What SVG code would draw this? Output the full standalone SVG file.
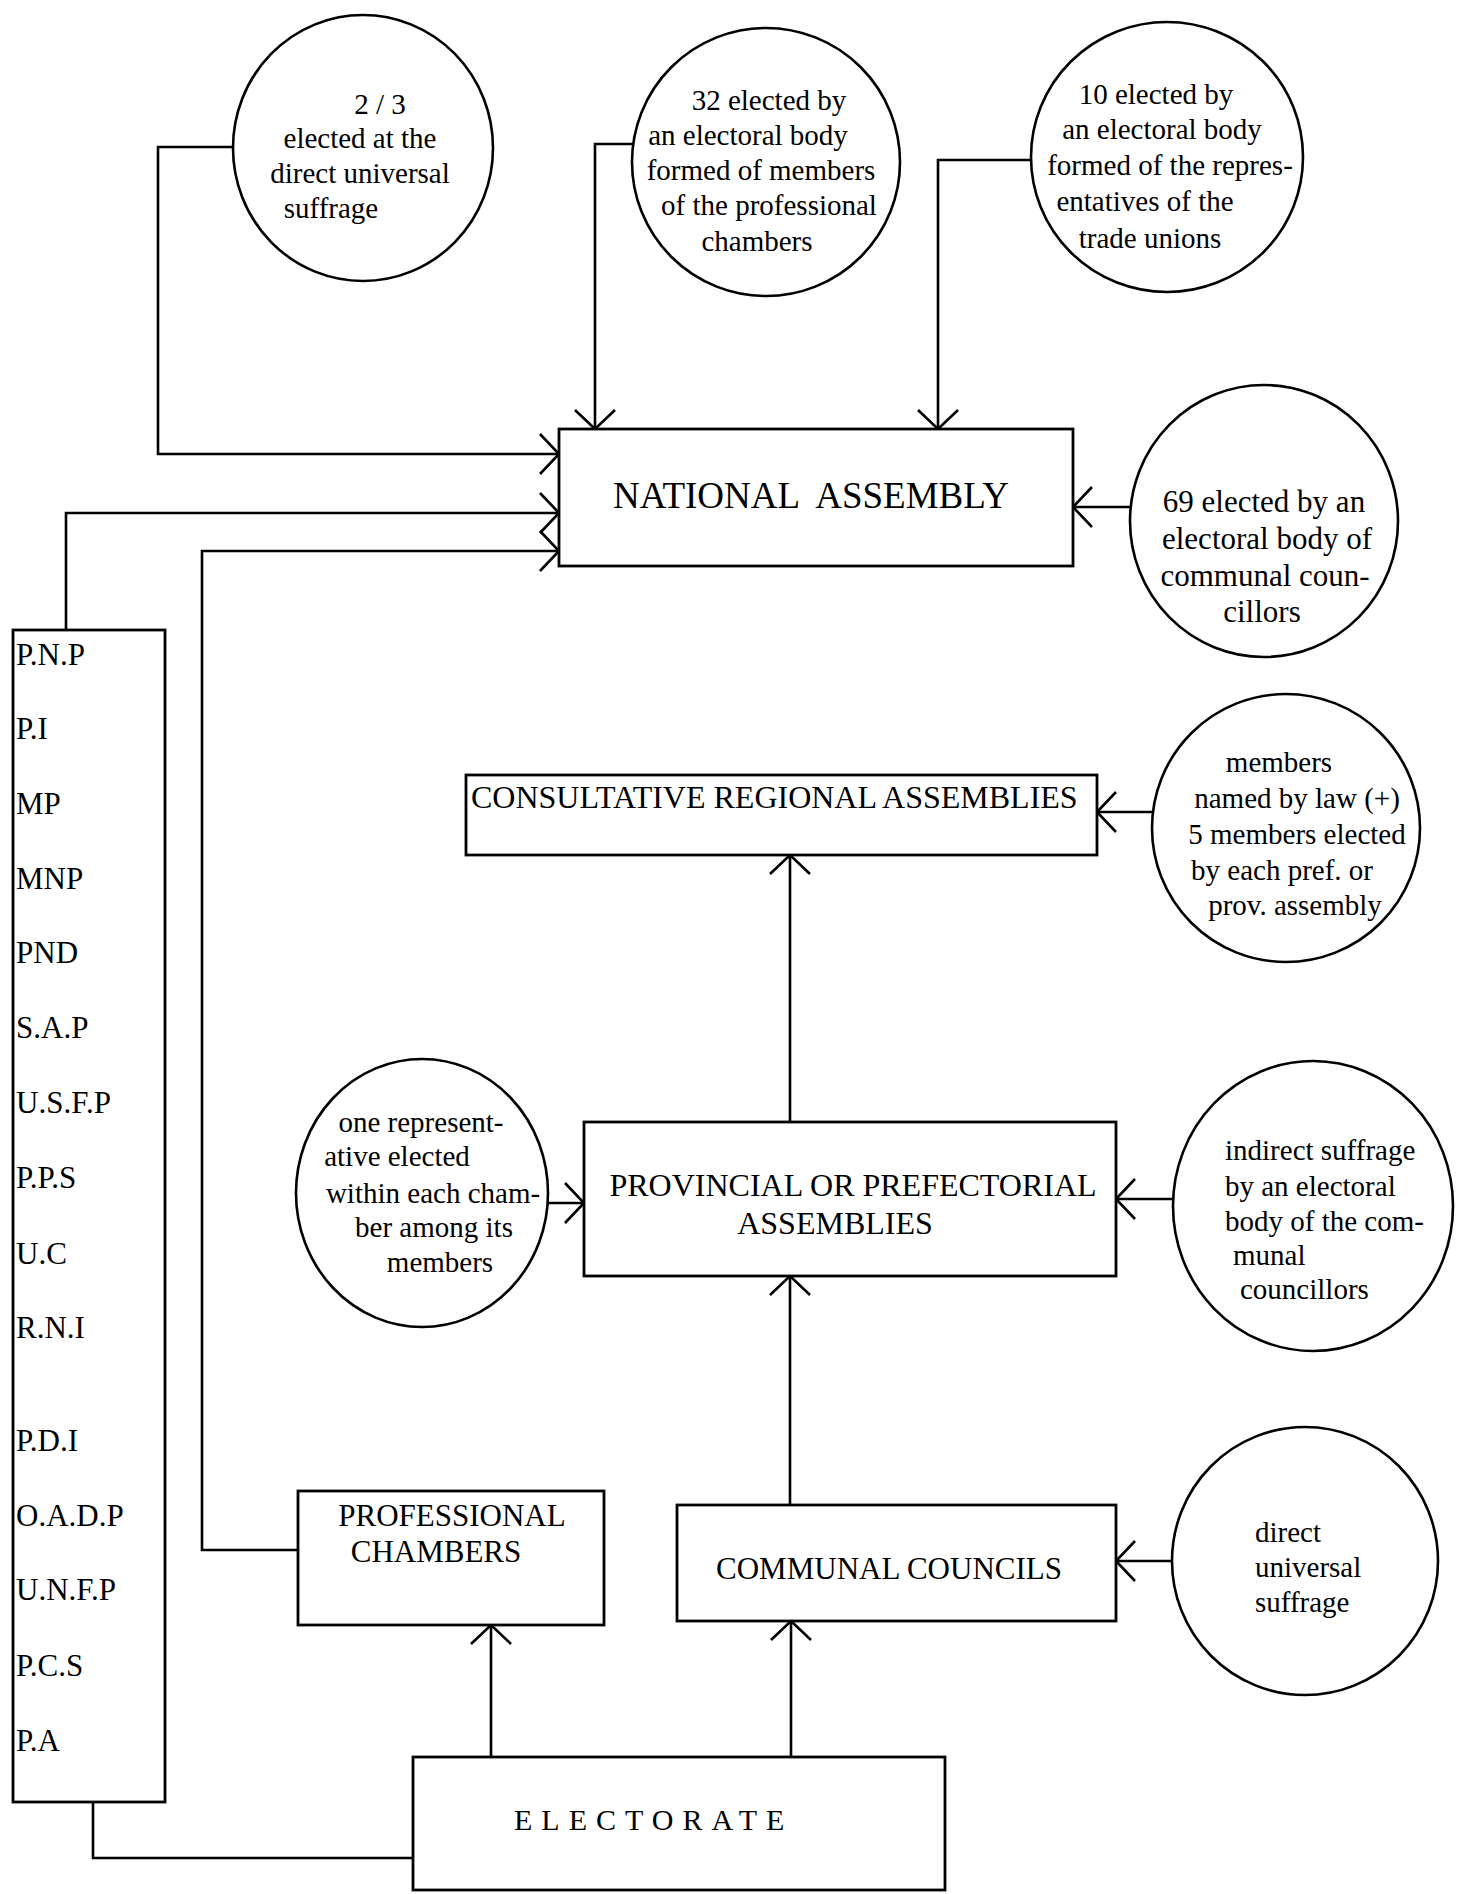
<svg xmlns="http://www.w3.org/2000/svg" width="1463" height="1894" viewBox="0 0 1463 1894">
<defs>
<marker id="arr" markerUnits="userSpaceOnUse" viewBox="-22 -22 24 44" refX="0" refY="0" markerWidth="24" markerHeight="44" orient="auto">
<path d="M-19,-20 L0,0 L-19,20" fill="none" stroke="#000" stroke-width="2.6"/>
</marker>
<style>
.bx{fill:#fff;stroke:#000;stroke-width:2.8}
.cl{fill:#fff;stroke:#000;stroke-width:2.6}
.ln{fill:none;stroke:#000;stroke-width:2.6}
text{font-family:"Liberation Serif","Times New Roman",serif;fill:#000}
.ct{font-size:29px;text-anchor:middle}
.cs{font-size:29px}
.bt{font-size:31px;text-anchor:middle}
.pt{font-size:31px}
</style>
</defs>
<rect width="1463" height="1894" fill="#fff"/>

<g id="connectors">
<path class="ln" d="M233,147 H158 V454 H559" marker-end="url(#arr)"/>
<path class="ln" d="M633,144 H595 V429" marker-end="url(#arr)"/>
<path class="ln" d="M1031,160 H938 V429" marker-end="url(#arr)"/>
<path class="ln" d="M1130,507 H1073" marker-end="url(#arr)"/>
<path class="ln" d="M66,630 V513 H559" marker-end="url(#arr)"/>
<path class="ln" d="M298,1550 H202 V551 H559" marker-end="url(#arr)"/>
<path class="ln" d="M1152,812 H1097" marker-end="url(#arr)"/>
<path class="ln" d="M790,1122 V855" marker-end="url(#arr)"/>
<path class="ln" d="M548,1203 H584" marker-end="url(#arr)"/>
<path class="ln" d="M1172,1199 H1116" marker-end="url(#arr)"/>
<path class="ln" d="M790,1505 V1276" marker-end="url(#arr)"/>
<path class="ln" d="M1172,1561 H1116" marker-end="url(#arr)"/>
<path class="ln" d="M491,1757 V1625" marker-end="url(#arr)"/>
<path class="ln" d="M791,1757 V1621" marker-end="url(#arr)"/>
<path class="ln" d="M413,1858 H93 V1802"/>
</g>

<g id="c1">
<ellipse class="cl" cx="363" cy="148" rx="130" ry="133"/>
<text class="ct" x="380" y="114">2 / 3</text>
<text class="ct" x="360" y="148">elected at the</text>
<text class="ct" x="360" y="183">direct universal</text>
<text class="ct" x="331" y="218">suffrage</text>
</g>

<g id="c2">
<ellipse class="cl" cx="766" cy="162" rx="134" ry="134"/>
<text class="ct" x="769" y="110">32 elected by</text>
<text class="ct" x="748" y="145">an electoral body</text>
<text class="ct" x="761" y="180">formed of members</text>
<text class="ct" x="769" y="215">of the professional</text>
<text class="ct" x="757" y="251">chambers</text>
</g>

<g id="c3">
<ellipse class="cl" cx="1167" cy="157" rx="136" ry="135"/>
<text class="ct" x="1156" y="104">10 elected by</text>
<text class="ct" x="1162" y="139">an electoral body</text>
<text class="ct" x="1170" y="175">formed of the repres-</text>
<text class="ct" x="1145" y="211">entatives of the</text>
<text class="ct" x="1150" y="248">trade unions</text>
</g>

<g id="c4">
<ellipse class="cl" cx="1264" cy="521" rx="134" ry="136"/>
<text class="ct" x="1264" y="512" style="font-size:31px">69 elected by an</text>
<text class="ct" x="1267" y="549" style="font-size:31px">electoral body of</text>
<text class="ct" x="1265" y="586" style="font-size:31px">communal coun-</text>
<text class="ct" x="1262" y="622" style="font-size:31px">cillors</text>
</g>

<g id="c5">
<ellipse class="cl" cx="1286" cy="828" rx="134" ry="134"/>
<text class="ct" x="1279" y="772">members</text>
<text class="ct" x="1297" y="808">named by law (+)</text>
<text class="ct" x="1297" y="844">5 members elected</text>
<text class="ct" x="1282" y="880">by each pref. or</text>
<text class="ct" x="1295" y="915">prov. assembly</text>
</g>

<g id="c6">
<ellipse class="cl" cx="1313" cy="1206" rx="140" ry="145"/>
<text class="cs" x="1225" y="1160">indirect suffrage</text>
<text class="cs" x="1225" y="1196">by an electoral</text>
<text class="cs" x="1225" y="1231">body of the com-</text>
<text class="cs" x="1233" y="1265">munal</text>
<text class="cs" x="1240" y="1299">councillors</text>
</g>

<g id="c7">
<ellipse class="cl" cx="422" cy="1193" rx="126" ry="134"/>
<text class="ct" x="421" y="1132">one represent-</text>
<text class="ct" x="397" y="1166">ative elected</text>
<text class="ct" x="433" y="1203">within each cham-</text>
<text class="ct" x="434" y="1237">ber among its</text>
<text class="ct" x="440" y="1272">members</text>
</g>

<g id="c8">
<ellipse class="cl" cx="1305" cy="1561" rx="133" ry="134"/>
<text class="cs" x="1255" y="1542">direct</text>
<text class="cs" x="1255" y="1577">universal</text>
<text class="cs" x="1255" y="1612">suffrage</text>
</g>

<g id="national">
<rect class="bx" x="559" y="429" width="514" height="137"/>
<text class="bt" x="811" y="508" style="font-size:37px;white-space:pre">NATIONAL  ASSEMBLY</text>
</g>

<g id="consultative">
<rect class="bx" x="466" y="775" width="631" height="80"/>
<text x="471" y="808" style="font-size:32px">CONSULTATIVE REGIONAL ASSEMBLIES</text>
</g>

<g id="provincial">
<rect class="bx" x="584" y="1122" width="532" height="154"/>
<text class="bt" x="853" y="1196" style="font-size:32px">PROVINCIAL OR PREFECTORIAL</text>
<text class="bt" x="835" y="1234" style="font-size:32px">ASSEMBLIES</text>
</g>

<g id="professional">
<rect class="bx" x="298" y="1491" width="306" height="134"/>
<text class="bt" x="452" y="1526">PROFESSIONAL</text>
<text class="bt" x="436" y="1562">CHAMBERS</text>
</g>

<g id="communal">
<rect class="bx" x="677" y="1505" width="439" height="116"/>
<text class="bt" x="889" y="1579">COMMUNAL COUNCILS</text>
</g>

<g id="electorate">
<rect class="bx" x="413" y="1757" width="532" height="133"/>
<text x="514" y="1830" style="font-size:30px;letter-spacing:9px">ELECTORATE</text>
</g>

<g id="parties">
<rect class="bx" x="13" y="630" width="152" height="1172"/>
<text class="pt" x="16" y="665">P.N.P</text>
<text class="pt" x="16" y="739">P.I</text>
<text class="pt" x="16" y="814">MP</text>
<text class="pt" x="16" y="889">MNP</text>
<text class="pt" x="16" y="963">PND</text>
<text class="pt" x="16" y="1038">S.A.P</text>
<text class="pt" x="16" y="1113">U.S.F.P</text>
<text class="pt" x="16" y="1188">P.P.S</text>
<text class="pt" x="16" y="1264">U.C</text>
<text class="pt" x="16" y="1338">R.N.I</text>
<text class="pt" x="16" y="1451">P.D.I</text>
<text class="pt" x="16" y="1526">O.A.D.P</text>
<text class="pt" x="16" y="1600">U.N.F.P</text>
<text class="pt" x="16" y="1676">P.C.S</text>
<text class="pt" x="16" y="1751">P.A</text>
</g>
</svg>
